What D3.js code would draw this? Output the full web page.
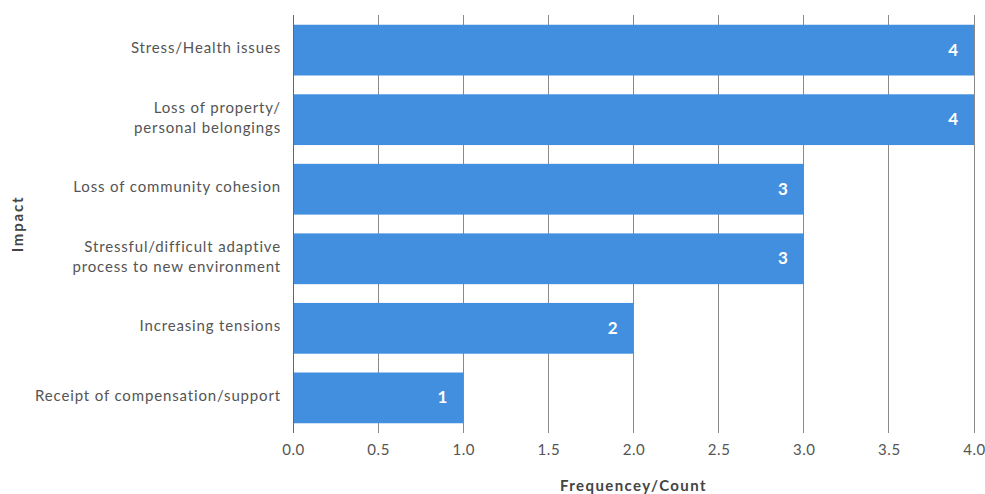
<!DOCTYPE html>
<html>
<head>
<meta charset="utf-8">
<script src="https://cdn.jsdelivr.net/npm/d3@7"></script>
<style>
  html, body { margin: 0; padding: 0; background: #fff; }
  svg { display: block; font-family: Lato, "Open Sans", sans-serif; }
</style>
</head>
<body>
<svg id="chart" width="985" height="494"></svg>
<script>
// Impact categories (top to bottom); "\n" marks a line break in the label
const categories = [
  "Stress/Health issues",
  "Loss of property/\npersonal belongings",
  "Loss of community cohesion",
  "Stressful/difficult adaptive\nprocess to new environment",
  "Increasing tensions",
  "Receipt of compensation/support"
];
const counts = [4, 4, 3, 3, 2, 1];
const xTicks = [0, 0.5, 1, 1.5, 2, 2.5, 3, 3.5, 4];
const xTitle = "Frequencey/Count";
const yTitle = "Impact";

const svg = d3.select("#chart");
const margin = { top: 15, right: 11, bottom: 61, left: 293 };
const W = 985, H = 494;
const plotW = W - margin.left - margin.right;
const plotH = H - margin.top - margin.bottom;

const x = d3.scaleLinear().domain([0, 4]).range([0, plotW]);
const y = d3.scaleBand().domain(categories).range([0, plotH])
  .paddingInner(0.27).paddingOuter(0.14);

const g = svg.append("g").attr("transform", `translate(${margin.left},${margin.top})`);

// vertical gridlines
g.append("g").selectAll("line").data(xTicks).join("line")
  .attr("x1", d => x(d)).attr("x2", d => x(d))
  .attr("y1", 0).attr("y2", plotH)
  .attr("stroke", "#8a8a8a").attr("stroke-width", 1)
  .attr("shape-rendering", "crispEdges");

// bars
g.append("g").selectAll("rect").data(categories).join("rect")
  .attr("x", x(0))
  .attr("y", d => y(d))
  .attr("width", (d, i) => x(counts[i]) - x(0))
  .attr("height", y.bandwidth())
  .attr("fill", "#428fdf");

// value labels inside bar ends
g.append("g").selectAll("text").data(categories).join("text")
  .attr("x", (d, i) => x(counts[i]) - 16)
  .attr("y", d => y(d) + y.bandwidth() / 2)
  .attr("dy", "0.33em")
  .attr("text-anchor", "end")
  .attr("fill", "#fff")
  .attr("font-weight", "bold")
  .attr("font-size", 17)
  .text((d, i) => counts[i]);

// x axis
const xAxis = g.append("g").attr("transform", `translate(0,${plotH})`)
  .call(d3.axisBottom(x).tickValues(xTicks).tickFormat(d3.format(".1f")).tickSize(0).tickPadding(11));
xAxis.select(".domain").remove();
xAxis.selectAll("text").attr("font-size", 15).attr("letter-spacing", 0.6)
  .attr("fill", "#555").attr("font-family", "Lato, sans-serif");

// y axis line
g.append("line").attr("x1", 0).attr("x2", 0).attr("y1", 0).attr("y2", plotH)
  .attr("stroke", "#666").attr("stroke-width", 1).attr("shape-rendering", "crispEdges");

// category labels, possibly multi-line
const lineH = 20;
const labels = g.append("g").selectAll("text").data(categories).join("text")
  .attr("text-anchor", "end")
  .attr("font-size", 15)
  .attr("letter-spacing", 0.85)
  .attr("fill", "#555");
labels.each(function(d) {
  const lines = d.split("\n");
  const cy = y(d) + y.bandwidth() / 2;
  const t = d3.select(this);
  lines.forEach((ln, k) => {
    t.append("tspan")
      .attr("x", -12)
      .attr("y", cy + (k - (lines.length - 1) / 2) * lineH)
      .attr("dy", "0.2em")
      .text(ln);
  });
});

// axis titles
svg.append("text")
  .attr("x", margin.left + plotW / 2).attr("y", 491)
  .attr("text-anchor", "middle")
  .attr("font-size", 15).attr("font-weight", "bold").attr("letter-spacing", 1.4)
  .attr("fill", "#444")
  .text(xTitle);

svg.append("text")
  .attr("transform", `translate(23,${margin.top + plotH / 2}) rotate(-90)`)
  .attr("text-anchor", "middle")
  .attr("font-size", 15).attr("font-weight", "bold").attr("letter-spacing", 1.8)
  .attr("fill", "#444")
  .text(yTitle);
</script>
</body>
</html>
